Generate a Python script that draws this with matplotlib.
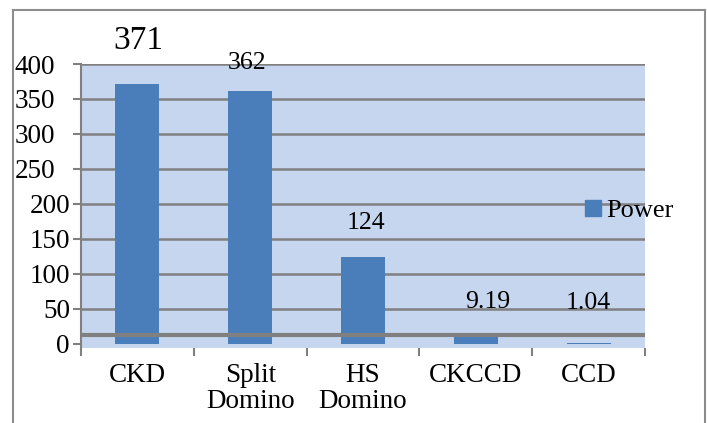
import matplotlib.pyplot as plt
import matplotlib.transforms as mtransforms
from matplotlib.lines import Line2D
from matplotlib.patches import Patch
import numpy as np

plt.rcParams['font.family'] = ['Liberation Serif', 'DejaVu Serif']

categories = ['CKD', 'Split\nDomino', 'HS\nDomino', 'CKCCD', 'CCD']
power = [371, 362, 124, 9.19, 1.04]
value_labels = ['371', '362', '124', '9.19', '1.04']
yticks = [0, 50, 100, 150, 200, 250, 300, 350, 400]

# where Excel dropped each data label, in pixels from the bar top
label_offsets = [(1, 44), (-3, 28), (3, 34), (12, 35), (0, 40)]
label_sizes = [24, 18.5, 18.5, 18.5, 18.5]

grey = '#808080'
bar_color = '#4A7EBB'

fig = plt.figure(figsize=(7.07, 4.23), dpi=100)
ax = fig.add_axes([81 / 707, 1 - 348 / 423, (645 - 81) / 707, (348 - 64) / 423])
ax.set_facecolor('#C6D6EE')

x = np.arange(len(categories))
ax.bar(x, power, width=0.39, color=bar_color, zorder=3)

ax.set_xlim(-0.5, len(categories) - 0.5)
ax.set_ylim(-6, 400)

for v in yticks[1:]:
    ax.axhline(v, color=grey, lw=1.8, zorder=1)
# the odd thick base line sitting a bit above zero
ax.axhline(13, color=grey, lw=3, zorder=4)

for s in ['top', 'right', 'bottom']:
    ax.spines[s].set_visible(False)
ax.spines['left'].set_color(grey)
ax.spines['left'].set_linewidth(1.5)

ax.set_yticks(yticks)
ax.set_yticklabels([str(v) for v in yticks], fontsize=19.5)
ax.tick_params(axis='y', length=6, width=1.5, color=grey, pad=2)

ax.set_xticks(x)
ax.set_xticklabels(categories, fontsize=19.5, linespacing=1.05)
ax.tick_params(axis='x', length=0, pad=11)
ax.set_xticks(np.arange(-0.5, len(categories)), minor=True)
ax.tick_params(axis='x', which='minor', length=6, width=1.5, color=grey)

# upper tick labels sit further left in the original
for v, lbl in zip(yticks, ax.get_yticklabels()):
    if v >= 250:
        lbl.set_transform(lbl.get_transform() +
                          mtransforms.ScaledTranslation(-15 / 100, 0, fig.dpi_scale_trans))

for xi, v, txt, (dx, dy), fs in zip(x, power, value_labels, label_offsets, label_sizes):
    ax.annotate(txt, (xi, v), xytext=(dx, dy), textcoords='offset pixels',
                ha='center', va='center', fontsize=fs, zorder=5, annotation_clip=False)

ax.legend(handles=[Patch(color=bar_color, label='Power')], loc='center left',
          bbox_to_anchor=(585 / 707, 1 - 211 / 423), bbox_transform=fig.transFigure,
          frameon=False, fontsize=19, handlelength=0.6, handleheight=0.6,
          handletextpad=0.2, borderpad=0, borderaxespad=0)

# outer chart frame
fx0, fx1, fy1 = 13 / 707, 705 / 707, 1 - 10 / 423
for xs, ys in [([fx0, fx1], [fy1, fy1]), ([fx0, fx0], [0, fy1]), ([fx1, fx1], [0, fy1])]:
    fig.add_artist(Line2D(xs, ys, color='#8c8c8c', lw=1.5, transform=fig.transFigure))

fig.savefig('out.png', dpi=100)
